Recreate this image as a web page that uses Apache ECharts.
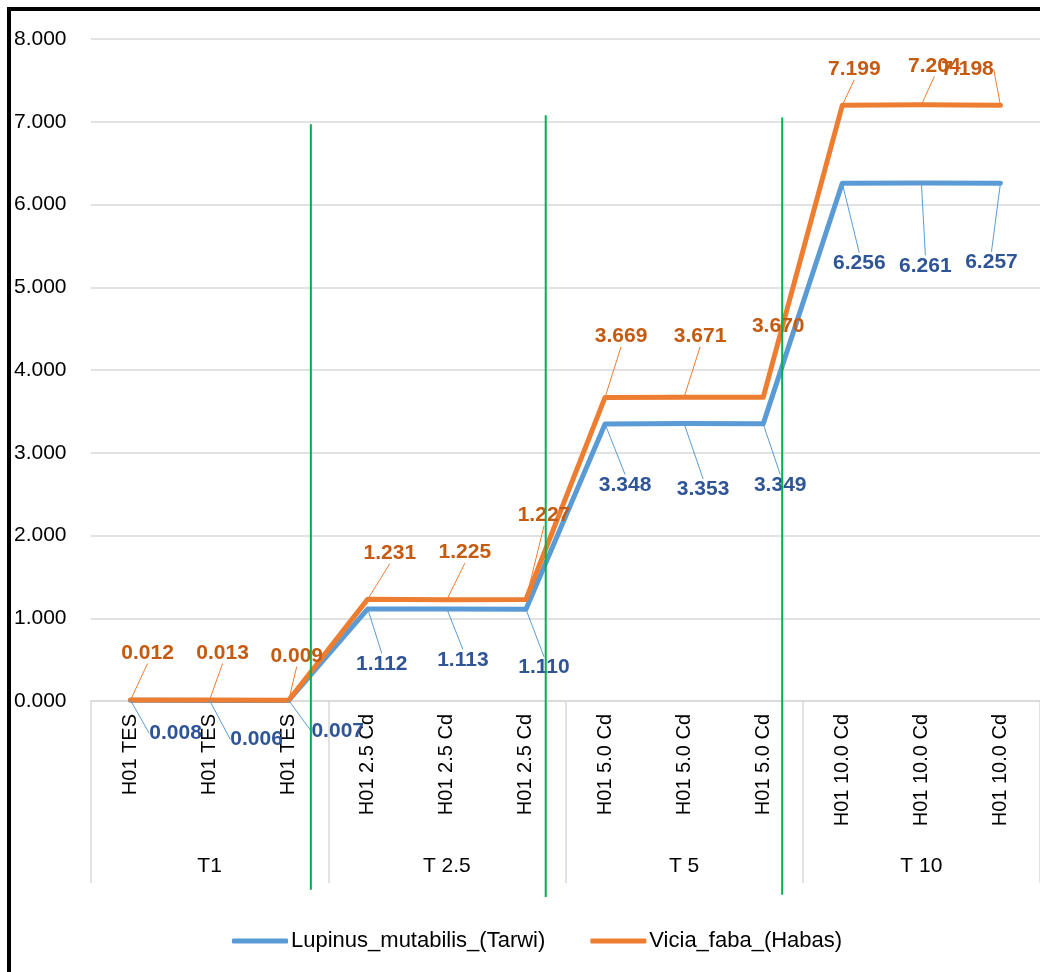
<!DOCTYPE html>
<html>
<head>
<meta charset="utf-8">
<script src="https://cdn.jsdelivr.net/npm/echarts@6/dist/echarts.min.js"></script>
<style>
html,body{margin:0;padding:0;background:#fff;}
#chart{width:1040px;height:972px;}
</style>
</head>
<body>
<div id="chart"></div>
<script>
// ---- data ----
const categories = ['H01 TES','H01 TES','H01 TES','H01 2.5 Cd','H01 2.5 Cd','H01 2.5 Cd','H01 5.0 Cd','H01 5.0 Cd','H01 5.0 Cd','H01 10.0 Cd','H01 10.0 Cd','H01 10.0 Cd'];
const groups = ['T1','T 2.5','T 5','T 10'];
const seriesNames = ['Lupinus_mutabilis_(Tarwi)','Vicia_faba_(Habas)'];
const lupinus = [0.008,0.006,0.007,1.112,1.113,1.110,3.348,3.353,3.349,6.256,6.261,6.257];
const vicia = [0.012,0.013,0.009,1.231,1.225,1.227,3.669,3.671,3.670,7.199,7.204,7.198];
const yMin = 0, yMax = 8, yStep = 1;
// label offsets (px from point to label centre)
const lupinusLabelOffsets = [[45,33],[47,39],[49,31],[14,55],[16,51],[18,58],[20,61],[19,66],[17,61],[17,80],[4,83],[-9,79]];
const viciaLabelOffsets = [[17,-47],[13,-47],[8,-44],[22,-46],[18,-47],[18,-84],[16,-61],[16,-61],[15,-71],[12,-36],[13,-39],[-33,-36]];
// green divider annotations: category position and value range
const dividerX = [2.28, 5.25, 8.24];
const dividerTop = [6.97, 7.08, 7.05];
const dividerBottom = [-2.28, -2.37, -2.34];

const FONT = 'Liberation Sans';
const chart = echarts.init(document.getElementById('chart'), null, {renderer:'canvas'});

function labelLayoutFor(offsets){
  return function(p){
    const o = offsets[p.dataIndex];
    return {
      x: p.rect.x + p.rect.width/2 + o[0],
      y: p.rect.y + p.rect.height/2 + o[1],
      align: 'center',
      verticalAlign: 'middle'
    };
  };
}

function lineSeries(name, data, color, labelColor, offsets){
  return {
    name: name,
    type: 'line',
    data: data,
    xAxisIndex: 0, yAxisIndex: 0,
    symbol: 'circle',
    symbolSize: 2,
    showSymbol: true,
    itemStyle: {color: color},
    lineStyle: {color: color, width: 5, cap: 'round', join: 'round'},
    emphasis: {disabled: true},
    label: {
      show: true,
      position: 'inside',
      formatter: (p) => p.value.toFixed(3),
      color: labelColor,
      fontFamily: FONT,
      fontWeight: 'bold',
      fontSize: 21,
      padding: [5,5,5,5]
    },
    labelLine: {show: true, lineStyle: {color: color, width: 1}},
    labelLayout: labelLayoutFor(offsets)
  };
}

const option = {
  animation: false,
  backgroundColor: '#ffffff',
  textStyle: {fontFamily: FONT},
  grid: [
    {left: 91, right: -4, top: 39, bottom: 271, containLabel: false},
    {left: 91, right: -4, top: 39, bottom: 271, containLabel: false}
  ],
  legend: {
    left: 227, top: 925,
    itemWidth: 56, itemHeight: 5, itemGap: 45,
    icon: 'roundRect',
    textStyle: {fontFamily: FONT, fontSize: 22, color: '#000', padding: [0,0,0,-2]},
    data: seriesNames
  },
  xAxis: [
    {
      type: 'category', gridIndex: 0, data: categories, boundaryGap: true,
      axisLine: {show: true, lineStyle: {color: '#d9d9d9', width: 1.5}},
      axisTick: {show: true, interval: (i) => i % 3 === 0, length: 182, lineStyle: {color: '#d9d9d9', width: 1.5}},
      axisLabel: {interval: 0, rotate: 90, margin: 13, fontSize: 20, color: '#000', fontFamily: FONT},
      splitLine: {show: false}
    },
    {
      type: 'category', gridIndex: 1, data: groups, boundaryGap: true,
      axisLine: {show: false}, axisTick: {show: false},
      axisLabel: {interval: 0, margin: 155, fontSize: 21, color: '#000', fontFamily: FONT},
      splitLine: {show: false}
    }
  ],
  yAxis: [
    {
      type: 'value', gridIndex: 0, min: yMin, max: yMax, interval: yStep,
      axisLine: {show: false}, axisTick: {show: false},
      splitLine: {show: true, lineStyle: {color: '#d9d9d9', width: 1.5}},
      axisLabel: {formatter: (v) => v.toFixed(3), align: 'left', margin: 77, fontSize: 21, color: '#000', fontFamily: FONT}
    },
    {type: 'value', gridIndex: 1, min: yMin, max: yMax, show: false}
  ],
  series: [
    lineSeries(seriesNames[0], lupinus, '#5b9bd5', '#2f5597', lupinusLabelOffsets),
    lineSeries(seriesNames[1], vicia, '#ed7d31', '#c55a11', viciaLabelOffsets)
  ]
};
chart.setOption(option);

// decorative dividers and frame
function catToPx(pos){
  const i = Math.floor(pos), f = pos - i;
  const a = chart.convertToPixel({xAxisIndex: 0}, i);
  const b = chart.convertToPixel({xAxisIndex: 0}, i + 1);
  return a + (b - a) * f;
}
const graphics = dividerX.map((xv, k) => {
  const x = catToPx(xv);
  const y1 = chart.convertToPixel({yAxisIndex: 0}, dividerTop[k]);
  const y2 = chart.convertToPixel({yAxisIndex: 0}, dividerBottom[k]);
  return {type: 'line', shape: {x1: x, y1: y1, x2: x, y2: y2}, style: {stroke: '#00b050', lineWidth: 2}, z: 100};
});
graphics.push({type: 'rect', shape: {x: 9, y: 9, width: 1300, height: 1300}, style: {fill: null, stroke: '#000', lineWidth: 4}, z: 100});
chart.setOption({graphic: graphics});
</script>
</body>
</html>
